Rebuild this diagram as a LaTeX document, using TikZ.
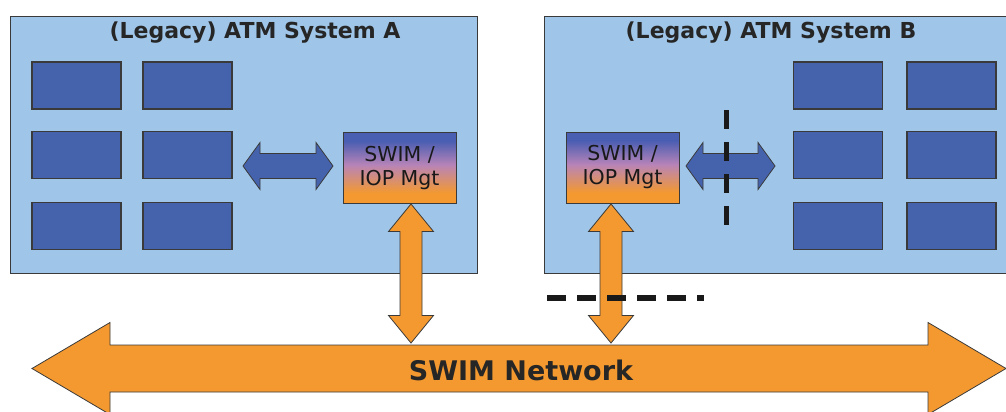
\documentclass[tikz,border=0pt]{standalone}
\usepackage{fontspec}
\setmainfont{DejaVu Sans}
\usetikzlibrary{calc}

\definecolor{sysblue}{HTML}{9FC5E8}
\definecolor{unitblue}{HTML}{4563AD}
\definecolor{swimorange}{HTML}{F4992F}
\definecolor{edgegray}{HTML}{3A3A3A}
\definecolor{mgtblue}{HTML}{4A5EB2}
\definecolor{mgtmauve}{HTML}{B884B8}

% block arrows: [style]{end a}{end b}{shaft half}{head half}{head length}
\newcommand{\hdblarrow}[6][]{%
    \draw[blockarrow,#1] let \p1=(#2), \p2=(#3) in
        (\p1) -- (\x1+#6pt,\y1+#5pt) -- (\x1+#6pt,\y1+#4pt) -- (\x2-#6pt,\y2+#4pt)
        -- (\x2-#6pt,\y2+#5pt) -- (\p2) -- (\x2-#6pt,\y2-#5pt) -- (\x2-#6pt,\y2-#4pt)
        -- (\x1+#6pt,\y1-#4pt) -- (\x1+#6pt,\y1-#5pt) -- cycle;}
\newcommand{\vdblarrow}[6][]{%
    \draw[blockarrow,#1] let \p1=(#2), \p2=(#3) in
        (\p1) -- (\x1+#5pt,\y1-#6pt) -- (\x1+#4pt,\y1-#6pt) -- (\x2+#4pt,\y2+#6pt)
        -- (\x2+#5pt,\y2+#6pt) -- (\p2) -- (\x2-#5pt,\y2+#6pt) -- (\x2-#4pt,\y2+#6pt)
        -- (\x1-#4pt,\y1-#6pt) -- (\x1-#5pt,\y1-#6pt) -- cycle;}

\begin{document}
\begin{tikzpicture}[x=1pt, y=-1pt,
            system/.style={draw=edgegray, fill=sysblue, line width=1pt, anchor=north west,
                minimum width=467pt, minimum height=257pt, inner sep=0pt},
            unit/.style={draw=edgegray, fill=unitblue, line width=1.2pt,
                minimum width=89pt, minimum height=47pt, inner sep=0pt},
            title/.style={font=\fontsize{22}{26}\selectfont\bfseries, text=black!85},
            iopmgt/.style={draw=edgegray, line width=1pt,
                minimum width=113pt, minimum height=71pt, inner sep=0pt,
                align=center, font=\fontsize{20.5}{24}\selectfont, text=black!90,
                path picture={
                    \coordinate (pnw) at (path picture bounding box.north west);
                    \coordinate (pse) at (path picture bounding box.south east);
                    \coordinate (pm0) at ($(pnw)!0.12!(pnw|-pse)$);
                    \coordinate (pm1) at ($(pnw)!0.46!(pnw|-pse)$);
                    \coordinate (pm2) at ($(pnw)!0.86!(pnw|-pse)$);
                    \fill [mgtblue] (pnw) rectangle ($(pm0 -| pse)+(0,0.5)$);
                    \fill [swimorange] ($(pm2)+(0,-0.5)$) rectangle (pse);
                    \shade [top color=mgtmauve, bottom color=swimorange] ($(pm1)+(0,-0.5)$) rectangle (pm2 -| pse);
                    \shade [top color=mgtblue, bottom color=mgtmauve] (pm0) rectangle (pm1 -| pse);
                }},
            blockarrow/.style={draw=edgegray, line width=0.8pt, line join=miter},
            cut/.style={line width=5pt, black!90}]
    \useasboundingbox (0,0) rectangle (1006,412);
    \clip (0,0) rectangle (1006,412);

    % the two legacy systems
    \node [system] (sysA) at (10,16) {};
    \node [system, minimum width=470pt] (sysB) at (544,16) {};
    \node [title] (titleA) at (255,33) {(Legacy) ATM System A};
    \node [title] (titleB) at (771,33) {(Legacy) ATM System B};

    \foreach \r/\yy in {1/85.5, 2/155, 3/226} {
        \node [unit] (a\r1) at (76.5,\yy) {};
        \node [unit] (a\r2) at (187.5,\yy) {};
        \node [unit] (b\r1) at (838,\yy) {};
        \node [unit] (b\r2) at (951.5,\yy) {};
    }

    \node [iopmgt] (iopA) at (399.5,168) {SWIM /\\IOP Mgt};
    \node [iopmgt] (iopB) at (622.5,167.5) {SWIM /\\IOP Mgt};

    % links inside the systems
    \coordinate (linkAw) at (243,166);
    \coordinate (linkAe) at (333,166);
    \coordinate (linkBw) at (686,166);
    \coordinate (linkBe) at (775,166);
    \hdblarrow[fill=unitblue]{linkAw}{linkAe}{12.5}{23.5}{17}
    \hdblarrow[fill=unitblue]{linkBw}{linkBe}{12.5}{23.5}{17}

    \coordinate (cutV1) at (726,110);
    \coordinate (cutV2) at (726,225);
    \draw [cut, dash pattern=on 19pt off 13pt] (cutV1) -- (cutV2);

    % links down to the network
    \coordinate (upA) at (411,204);
    \coordinate (downA) at (411,343);
    \coordinate (upB) at (611,204);
    \coordinate (downB) at (611,343);
    \vdblarrow[fill=swimorange]{upA}{downA}{11}{22.5}{27.5}
    \vdblarrow[fill=swimorange]{upB}{downB}{11}{22.5}{27.5}

    % network
    \coordinate (netW) at (32,368.5);
    \coordinate (netE) at (1006,368.5);
    \hdblarrow[fill=swimorange]{netW}{netE}{23.5}{46}{78}
    \node [font=\fontsize{27}{32}\selectfont\bfseries, text=black!85] (net) at (521,370) {SWIM Network};

    \coordinate (cutH1) at (547,298);
    \coordinate (cutH2) at (704,298);
    \draw [cut, line width=6pt, dash pattern=on 19pt off 11pt] (cutH1) -- (cutH2);
\end{tikzpicture}
\end{document}
